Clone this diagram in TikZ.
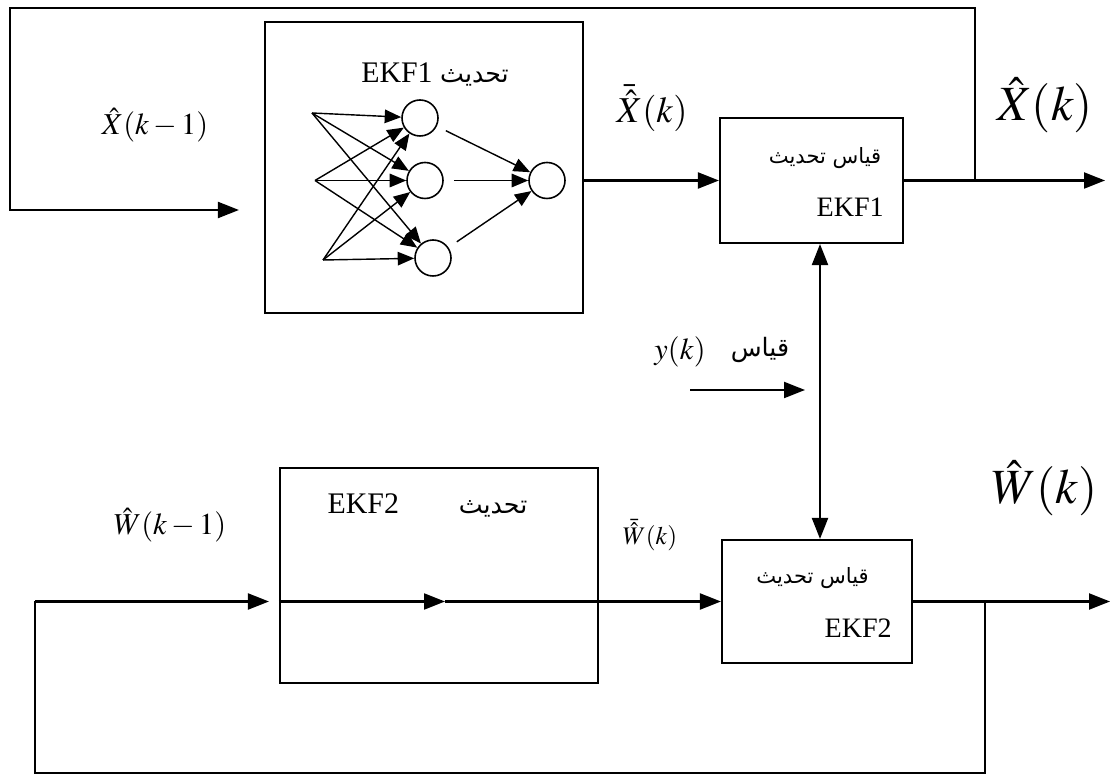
\documentclass[tikz,border=0pt]{standalone}
\usepackage{mathptmx}
\usepackage{fontspec}
\setmainfont{Liberation Serif}
\newfontfamily\arabicfont[Script=Arabic]{DejaVu Sans}
\TeXXeTstate=1
\usetikzlibrary{arrows.meta}

\begin{document}
\begin{tikzpicture}[
    text=black,
    >={Triangle[length=4.2mm, width=3.2mm]},
    box/.style={draw=black, line width=1.2pt, rectangle, inner sep=0pt},
    neuron/.style={circle, draw=black, line width=0.9pt, minimum size=7.2mm, inner sep=0pt},
    arrowline/.style={->, line width=1.2pt},
    nnline/.style={-{Triangle[length=3.3mm, width=2.7mm]}, line width=0.8pt},
    signal/.style={line width=1.2pt}
]
\useasboundingbox (0,0) rectangle (22.26,15.56);

% ==================== EKF1 PREDICTION ====================
\node[box, minimum width=6.36cm, minimum height=5.82cm] (prd1) at (8.48,12.21) {};
\node (ttl1) at (8.7,14.06) {\fontsize{17}{20}\selectfont EKF1 {\Large\arabicfont\beginR تحديث\endR}};

% Neural network
\coordinate (in1) at (6.24,13.3);
\coordinate (in2) at (6.3,11.95);
\coordinate (in3) at (6.46,10.36);
\node[neuron] (h1) at (8.4,13.2) {};
\node[neuron] (h2) at (8.5,11.95) {};
\node[neuron] (h3) at (8.66,10.4) {};
\node[neuron] (out) at (10.94,11.95) {};

\foreach \i in {1,2,3} {
    \foreach \j in {1,2,3} {
        \draw[nnline] (in\i) -- (h\j);
    }
    \draw[nnline, shorten <=2mm] (h\i) -- (out);
}

% ==================== EKF1 UPDATE ====================
\node[box, minimum width=3.66cm, minimum height=2.5cm] (upd1) at (16.23,11.95) {};
\node[anchor=east] (upd1a) at (17.75,12.4) {\large\arabicfont\beginR قياس تحديث\endR};
\node[anchor=east] (upd1b) at (17.8,11.42) {\fontsize{16}{19}\selectfont EKF1};

% Signals
\coordinate (xout) at (22.1,11.95);
\coordinate (xjn) at (19.5,11.95);
\coordinate (xtop) at (0.2,15.4);
\coordinate (xin) at (0.2,11.36);
\draw[arrowline] (prd1.east |- upd1.west) -- (upd1.west);
\draw[arrowline] (upd1.east) -- (xout);
\draw[arrowline, shorten >=5mm] (xjn) |- (xtop) |- (prd1.west |- xin);

% ==================== EKF2 PREDICTION ====================
\node[box, minimum width=6.36cm, minimum height=4.3cm] (prd2) at (8.78,4.05) {};
\node (ttl2) at (8.55,5.46) {\fontsize{17}{20}\selectfont EKF2\qquad{\Large\arabicfont\beginR تحديث\endR}};

% ==================== EKF2 UPDATE ====================
\node[box, minimum width=3.8cm, minimum height=2.46cm] (upd2) at (16.34,3.53) {};
\node[anchor=east] (upd2a) at (17.5,4.0) {\large\arabicfont\beginR قياس تحديث\endR};
\node[anchor=east] (upd2b) at (17.96,3.0) {\fontsize{16}{19}\selectfont EKF2};

% Signals
\coordinate (win) at (0.7,3.53);
\coordinate (wmid) at (8.9,3.53);
\coordinate (wout) at (22.2,3.53);
\coordinate (wjn) at (19.7,3.53);
\coordinate (wbot) at (0.7,0.1);
\draw[arrowline, shorten >=2mm] (win) -- (prd2.west |- upd2.west);
\draw[arrowline] (prd2.west |- upd2.west) -- (wmid);
\draw[arrowline] (wmid) -- (upd2.west);
\draw[arrowline] (upd2.east) -- (wout);
\draw[signal] (wjn) |- (wbot) -- (win);

% ==================== MEASUREMENT ====================
\coordinate (ymeas) at (16.4,7.76);
\coordinate (yin) at (13.8,7.76);
\draw[arrowline, <->] (upd1.south -| ymeas) -- (upd2.north -| ymeas);
\draw[arrowline, shorten >=3mm] (yin) -- (ymeas);

% Labels
\node (lx1) at (3.1,13.06) {\LARGE $\hat{X}(k-1)$};
\node (lx2) at (13.04,13.4) {\huge $\bar{\hat{X}}(k)$};
\node (lx3) at (20.9,13.46) {\fontsize{28}{32}\selectfont $\hat{X}(k)$};
\node (lw1) at (3.4,5.06) {\LARGE $\hat{W}(k-1)$};
\node (lw2) at (13.0,4.86) {\Large $\bar{\hat{W}}(k)$};
\node (lw3) at (20.9,5.8) {\fontsize{28}{32}\selectfont $\hat{W}(k)$};
\node (ly1) at (13.6,8.52) {\LARGE $y(k)$};
\node (ly2) at (15.2,8.56) {\Large\arabicfont\beginR قياس\endR};

\end{tikzpicture}
\end{document}
